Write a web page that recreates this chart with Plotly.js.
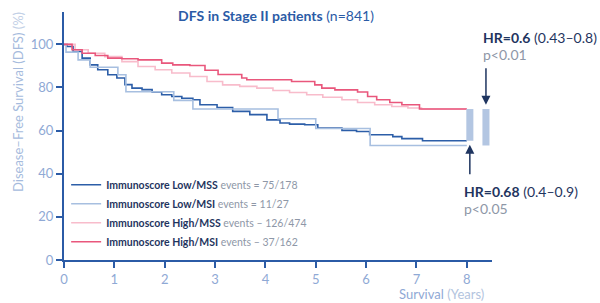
<!DOCTYPE html>
<html><head><meta charset="utf-8">
<script src="https://cdn.plot.ly/plotly-3.0.1.min.js"></script>
<style>html,body{margin:0;padding:0;background:#fff}#chart{width:600px;height:303px}</style>
</head><body><div id="chart"></div>
<script>
// Kaplan-Meier DFS curves (time in years, survival in %)
const lowMssT = [0, 0.06, 0.18, 0.36, 0.52, 0.67, 0.87, 1.05, 1.21, 1.35, 1.55, 1.75, 1.94, 2.14, 2.34, 2.56, 2.70, 3.04, 3.35, 3.69, 4.03, 4.29, 4.48, 4.78, 5.04, 5.52, 5.81, 6.07, 6.53, 6.71, 7.12, 8.0];
const lowMssS = [100, 99, 96.7, 93.6, 90.5, 88.2, 85.9, 84.4, 81.3, 79.7, 79, 77.9, 76.6, 75.8, 75, 74.3, 72, 70.7, 68.9, 67.4, 65, 63.5, 63, 62.7, 61.2, 60.1, 59.6, 58.1, 57.2, 56.3, 55.3, 55.3];

const lowMsiT = [0, 0.04, 0.28, 0.52, 1.07, 1.23, 2.18, 2.56, 4.25, 5.0, 6.08, 8.0];
const lowMsiS = [100, 96.4, 92.8, 89.4, 85.9, 78, 74, 70, 65.5, 61, 53.1, 53.1];

const highMssT = [0, 0.22, 0.48, 0.81, 1.15, 1.47, 1.81, 2.14, 2.5, 2.84, 3.15, 3.49, 3.83, 4.15, 4.48, 4.82, 5.14, 5.52, 5.83, 6.17, 6.51, 6.83, 7.10, 8.0];
const highMssS = [100, 97.5, 95.9, 94.3, 92, 89.7, 88.2, 86.7, 85.1, 82.8, 81.2, 80.5, 79.7, 78.6, 77.7, 76.6, 75.5, 74.3, 73, 72, 71.2, 70.5, 70, 70];

const highMsiT = [0, 0.16, 0.36, 0.62, 0.87, 1.15, 1.47, 1.94, 2.16, 2.5, 2.80, 3.06, 3.53, 3.63, 4.52, 4.98, 5.12, 5.38, 5.83, 6.03, 6.21, 6.47, 6.71, 7.06, 8.0];
const highMsiS = [100, 97.5, 95.9, 94.8, 93.6, 93.3, 92.8, 91.3, 90.5, 90.2, 88, 86, 84.4, 83.6, 82.8, 81.2, 79.7, 78.9, 77.9, 75.8, 74.3, 73, 72, 70, 70];

const groupNames = ['Immunoscore Low/MSS', 'Immunoscore Low/MSI', 'Immunoscore High/MSS', 'Immunoscore High/MSI'];
const eventLabels = ['events = 75/178', 'events = 11/27', 'events \u2013 126/474', 'events \u2013 37/162'];
const xTicks = [0, 1, 2, 3, 4, 5, 6, 7, 8];
const yTicks = [0, 20, 40, 60, 80, 100];

const axisBlue = '#2b5ba6';
const tickBlue = '#8fa9d5';
const navy = '#1f3560';
const grey = '#8e97a7';
const colors = ['#2c5ea8', '#a7bfe0', '#f8bccb', '#e9577c'];
const widths = [1.6, 1.6, 1.6, 1.6];

const series = [[lowMssT, lowMssS], [lowMsiT, lowMsiS], [highMssT, highMssS], [highMsiT, highMsiS]];
const traces = series.map((s, i) => ({
  x: s[0], y: s[1], type: 'scatter', mode: 'lines',
  line: {shape: 'hv', color: colors[i], width: widths[i]},
  name: '<b>' + groupNames[i] + '</b> <span style="color:' + grey + '">' + eventLabels[i] + '</span>',
  hoverinfo: 'skip'
}));

const endLowMss = lowMssS[lowMssS.length - 1];
const endLowMsi = lowMsiS[lowMsiS.length - 1];
const endHighMsi = highMsiS[highMsiS.length - 1];
const endHighMss = highMssS[highMssS.length - 1];
const barColor = '#b3c6e2';

const layout = {
  width: 600, height: 303,
  margin: {l: 64, r: 107.6, t: 12, b: 42.5, pad: 0},
  paper_bgcolor: '#fff', plot_bgcolor: '#fff',
  font: {family: 'Lato, sans-serif', color: tickBlue},
  title: {text: '<b>DFS in Stage II patients</b> (n=841)', font: {size: 14, color: axisBlue, family: 'Lato, sans-serif'},
          x: 0.46, xanchor: 'center', y: 0.947, yanchor: 'middle', xref: 'container', yref: 'container'},
  xaxis: {range: [0, 8.5], tickvals: xTicks, ticktext: xTicks.map(String), showgrid: false, zeroline: false,
          showline: true, linecolor: axisBlue, linewidth: 2, ticks: 'outside', ticklen: 6, tickwidth: 2, tickcolor: axisBlue,
          tickfont: {size: 13, color: tickBlue}, fixedrange: true},
  yaxis: {range: [0, 115], tickvals: yTicks, ticktext: yTicks.map(String), showgrid: false, zeroline: false,
          showline: true, linecolor: axisBlue, linewidth: 2, ticks: 'outside', ticklen: 6, tickwidth: 2, tickcolor: axisBlue,
          tickfont: {size: 13, color: tickBlue}, fixedrange: true},
  showlegend: true,
  legend: {x: 0.005, xanchor: 'left', y: 0.362, yanchor: 'top', bgcolor: 'rgba(0,0,0,0)',
           font: {size: 10.5, color: navy, family: 'Lato, sans-serif'}, tracegroupgap: 0, traceorder: 'normal'},
  shapes: [
    {type: 'rect', xref: 'x', yref: 'y', x0: 7.99, x1: 8.13, y0: endLowMss, y1: endHighMsi, fillcolor: barColor, line: {width: 0}},
    {type: 'rect', xref: 'x', yref: 'y', x0: 8.31, x1: 8.45, y0: endLowMsi, y1: endHighMss, fillcolor: barColor, line: {width: 0}}
  ],
  annotations: [
    {xref: 'x', yref: 'y', x: 8.29, y: 103, xanchor: 'left', yanchor: 'middle', showarrow: false,
     text: '<b>HR=0.6</b> (0.43\u20130.8)', font: {size: 14, color: navy}},
    {xref: 'x', yref: 'y', x: 8.29, y: 95.1, xanchor: 'left', yanchor: 'middle', showarrow: false,
     text: 'p&lt;0.01', font: {size: 14, color: grey}},
    {xref: 'x', yref: 'y', x: 7.91, y: 31.8, xanchor: 'left', yanchor: 'middle', showarrow: false,
     text: '<b>HR=0.68</b> (0.4\u20130.9)', font: {size: 14, color: navy}},
    {xref: 'x', yref: 'y', x: 7.91, y: 23.8, xanchor: 'left', yanchor: 'middle', showarrow: false,
     text: 'p&lt;0.05', font: {size: 14, color: grey}},
    {xref: 'x', yref: 'y', x: 8.38, y: endHighMss + 2, ax: 0, ay: -38, text: '', showarrow: true,
     arrowhead: 2, arrowsize: 1.2, arrowwidth: 1.5, arrowcolor: navy},
    {xref: 'x', yref: 'y', x: 8.06, y: endLowMss - 1.8, ax: 0, ay: 31, text: '', showarrow: true,
     arrowhead: 2, arrowsize: 1.2, arrowwidth: 1.5, arrowcolor: navy},
    {xref: 'x', yref: 'paper', x: 8.39, y: -0.139, xanchor: 'right', yanchor: 'middle', showarrow: false,
     text: 'Survival <span style="color:#b3c4de">(Years)</span>', font: {size: 13, color: tickBlue}},
    {xref: 'paper', yref: 'paper', x: -0.107, y: 0.638, xanchor: 'center', yanchor: 'middle', showarrow: false, textangle: -90,
     text: 'Disease\u2013Free Survival (DFS) <span style="color:#c2d0e6">(%)</span>', font: {size: 13, color: '#a6bbdd'}}
  ]
};

Plotly.newPlot('chart', traces, layout, {displayModeBar: false, staticPlot: true});
</script></body></html>
